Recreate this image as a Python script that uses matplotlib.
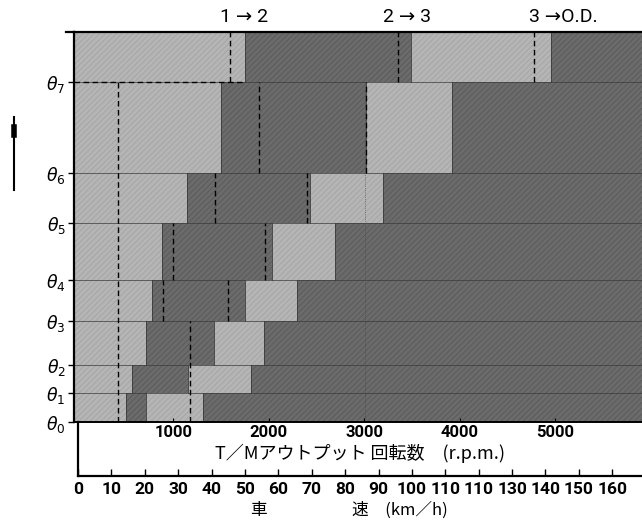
import numpy as np
import matplotlib.pyplot as plt

plt.rcParams['hatch.linewidth'] = 0.5

# Data
theta_labels = [r'$\theta_0$', r'$\theta_1$', r'$\theta_2$', r'$\theta_3$',
                r'$\theta_4$', r'$\theta_5$', r'$\theta_6$', r'$\theta_7$']
theta_level = [0, 29, 57, 101, 142, 199, 249, 340]
top_level = 390

# rpm where each zone of a throttle band ends (light / dark / light, then dark)
zone_a = [500, 565, 710, 775, 880, 1140, 1500, 1750]
zone_b = [710, 1150, 1425, 1750, 2030, 2430, 3015, 3490]
zone_c = [1310, 1810, 1950, 2295, 2690, 3195, 3915, 4955]

# dashed shift lines: rpm, from band, to band (exclusive)
dash_rpm = [420, 1175, 890, 1570, 995, 1960, 1435, 2400, 1895, 3015, 1590, 3350, 4775]
dash_lo = [0, 0, 3, 3, 4, 4, 5, 5, 6, 6, 7, 7, 7]
dash_hi = [7, 3, 4, 4, 5, 5, 6, 6, 7, 7, 8, 8, 8]

rpm_ticks = [1000, 2000, 3000, 4000, 5000]
speed_ticks = [0, 10, 20, 30, 40, 50, 60, 70, 80, 90, 100, 110, 120, 130, 140, 150, 160]
speed_labels = ['0', '10', '20', '30', '40', '50', '60', '70', '80', '90', '100',
                '110', '110', '130', '140', '150', '160']
shift_names = ['1 → 2', '2 → 3', '3 →O.D.']
shift_name_x = [1740, 3450, 5080]

light = '#b5b5b5'
dark = '#6b6b6b'
rpm_max = 5906
num_font = ['Roboto', 'DejaVu Sans']

fig = plt.figure(figsize=(6.42, 5.21), dpi=100)
ax = fig.add_axes([74/642, 99/521, 568/642, 390/521])

levels = theta_level + [top_level]
for i in range(len(theta_level)):
    y0 = levels[i]
    h = levels[i+1] - levels[i]
    ax.barh(y0, rpm_max + 100, left=-40, height=h, align='edge', color=dark,
            edgecolor='#555555', hatch='//////', linewidth=0)
    ax.barh(y0, zone_a[i] + 40, left=-40, height=h, align='edge', color=light,
            edgecolor='#a0a0a0', hatch='//////', linewidth=0)
    ax.barh(y0, zone_c[i] - zone_b[i], left=zone_b[i], height=h, align='edge',
            color=light, edgecolor='#a0a0a0', hatch='//////', linewidth=0)
    # zone edges
    for xv in (zone_a[i], zone_b[i], zone_c[i]):
        ax.plot([xv, xv], [y0, y0 + h], color='#3a3a3a', lw=0.6)
    ax.plot([-40, rpm_max], [y0, y0], color='#3a3a3a', lw=0.5)

for xv, lo, hi in zip(dash_rpm, dash_lo, dash_hi):
    ax.plot([xv, xv], [levels[lo], levels[hi]], color='black', lw=1.0,
            linestyle=(0, (4, 2.5)))
ax.plot([-40, zone_a[7]], [theta_level[7], theta_level[7]], color='black', lw=1.0,
        linestyle=(0, (4, 2.5)))
ax.plot([3005, 3005], [0, theta_level[7]], color='#444444', lw=0.5, linestyle=':')

ax.set_xlim(-40, rpm_max)
ax.set_ylim(0, top_level)
ax.set_yticks(theta_level)
ax.set_yticklabels(theta_labels, fontsize=12.5)
ax.tick_params(axis='y', length=4, width=1, pad=2)
ax.set_xticks(rpm_ticks)
ax.set_xticklabels([str(t) for t in rpm_ticks], family=num_font,
                   fontsize=12, fontweight='bold')
ax.tick_params(axis='x', direction='in', length=3, pad=2)
ax.spines['right'].set_visible(False)
ax.spines['left'].set_linewidth(1.6)
ax.spines['bottom'].set_linewidth(1.4)
ax.spines['top'].set_linewidth(1.6)
ax.plot([-120, -40], [top_level, top_level], color='black', lw=1.6, clip_on=False)

for name, xv in zip(shift_names, shift_name_x):
    ax.text(xv, top_level + 6, name, ha='center', va='bottom', fontsize=14,
            family=num_font)

# speed axis
ax2 = fig.add_axes([78/642, 45/521, 564/642, 54/521])
ax2.set_facecolor('none')
ax2.set_xlim(0, 168.9)
ax2.set_ylim(0, 1)
ax2.set_yticks([])
ax2.set_xticks(speed_ticks)
ax2.set_xticklabels(speed_labels, family=num_font, fontsize=12.5, fontweight='bold')
ax2.tick_params(axis='x', direction='in', length=5, width=1, pad=4)
ax2.spines['top'].set_visible(False)
ax2.spines['right'].set_visible(False)
ax2.spines['left'].set_linewidth(1.6)
ax2.spines['bottom'].set_linewidth(1.6)

jp = ['Noto Sans CJK JP', 'DejaVu Sans']
fig.text(360/642, 1 - 453/521, 'T／Mアウトプット 回転数　(r.p.m.)', ha='center', va='center',
         fontsize=13, family=jp)
fig.text(258/642, 1 - 510/521, '車', ha='center', va='center', fontsize=12, family=jp)
fig.text(352/642, 1 - 510/521, '速　(km／h)', ha='left', va='center', fontsize=12, family=jp)

# direction arrow at the left
fig.add_artist(plt.Line2D([14/642, 14/642], [1 - 190/521, 1 - 117/521], color='black', lw=1.5))
fig.add_artist(plt.Line2D([14/642, 14/642], [1 - 135/521, 1 - 127/521], color='black', lw=4))

fig.savefig('out.png', dpi=100)
